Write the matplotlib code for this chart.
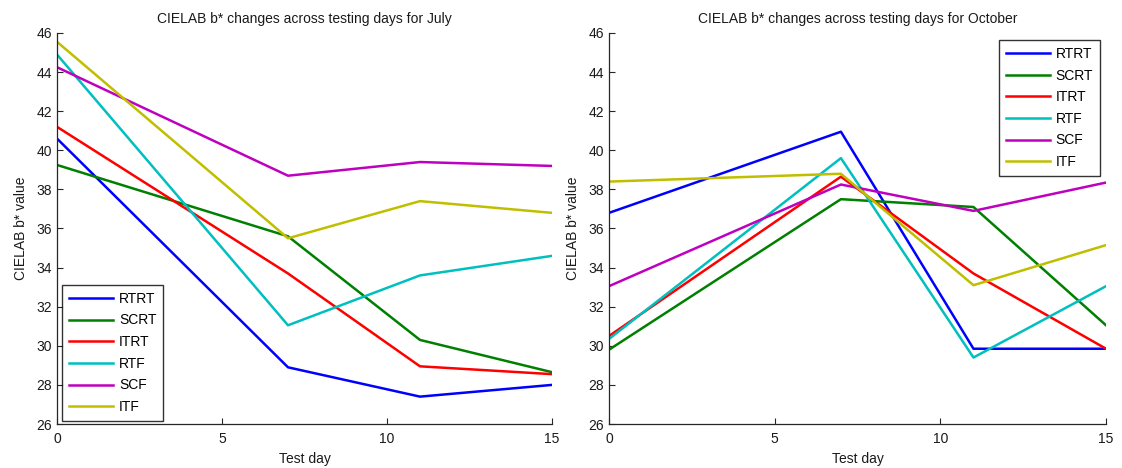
import matplotlib
matplotlib.use("Agg")
import matplotlib.pyplot as plt

plt.rcParams['font.family'] = ['Liberation Sans', 'DejaVu Sans']

days = [0, 7, 11, 15]
series_names = ["RTRT", "SCRT", "ITRT", "RTF", "SCF", "ITF"]
colors = ["#0000ff", "#008000", "#ff0000", "#00bfbf", "#bf00bf", "#bfbf00"]

july_rtrt = [40.6, 28.9, 27.4, 28.0]
july_scrt = [39.25, 35.6, 30.3, 28.65]
july_itrt = [41.2, 33.7, 28.95, 28.55]
july_rtf = [44.9, 31.05, 33.6, 34.6]
july_scf = [44.25, 38.7, 39.4, 39.2]
july_itf = [45.55, 35.5, 37.4, 36.8]

oct_rtrt = [36.8, 40.95, 29.85, 29.85]
oct_scrt = [29.8, 37.5, 37.1, 31.05]
oct_itrt = [30.5, 38.65, 33.7, 29.85]
oct_rtf = [30.35, 39.6, 29.4, 33.05]
oct_scf = [33.05, 38.25, 36.9, 38.35]
oct_itf = [38.4, 38.8, 33.1, 35.15]

july = [july_rtrt, july_scrt, july_itrt, july_rtf, july_scf, july_itf]
october = [oct_rtrt, oct_scrt, oct_itrt, oct_rtf, oct_scf, oct_itf]

x_ticks = [0, 5, 10, 15]
y_ticks = [26, 28, 30, 32, 34, 36, 38, 40, 42, 44, 46]

fig = plt.figure(figsize=(11.22, 4.68), dpi=100)
ax1 = fig.add_axes([57 / 1122, 44 / 468, 495 / 1122, 391 / 468])
ax2 = fig.add_axes([609 / 1122, 44 / 468, 497 / 1122, 391 / 468])


def draw(ax, data, title, legend_loc, anchor):
    for vals, name, c in zip(data, series_names, colors):
        ax.plot(days, vals, color=c, lw=1.8, label=name)
    ax.set_xlim(0, 15)
    ax.set_ylim(26, 46)
    ax.set_xticks(x_ticks)
    ax.set_yticks(y_ticks)
    ax.tick_params(direction='in', length=4, width=0.8, labelsize=10, colors='#262626',
                   labelcolor='#1a1a1a')
    ax.tick_params(axis='x', pad=6)
    ax.spines['top'].set_visible(False)
    ax.spines['right'].set_visible(False)
    for s in ('left', 'bottom'):
        ax.spines[s].set_color('#262626')
        ax.spines[s].set_linewidth(0.9)
    ax.set_title(title, fontsize=10, color='#1a1a1a', pad=7)
    ax.set_xlabel("Test day", fontsize=10, color='#1a1a1a', labelpad=4)
    ax.set_ylabel("CIELAB b* value", fontsize=10, color='#1a1a1a', labelpad=6)
    leg = ax.legend(loc=legend_loc, bbox_to_anchor=anchor, fontsize=10,
                    frameon=True, fancybox=False, shadow=False,
                    handlelength=3.2, handletextpad=0.4, labelspacing=0.55,
                    borderpad=0.5, borderaxespad=0.0)
    leg.get_frame().set_edgecolor('black')
    leg.get_frame().set_linewidth(1.0)


draw(ax1, july, "CIELAB b* changes across testing days for July",
     'lower left', (5 / 495, 3 / 391))
draw(ax2, october, "CIELAB b* changes across testing days for October",
     'upper right', (1 - 6 / 497, 1 - 7 / 391))

fig.savefig("out.png", dpi=100)
